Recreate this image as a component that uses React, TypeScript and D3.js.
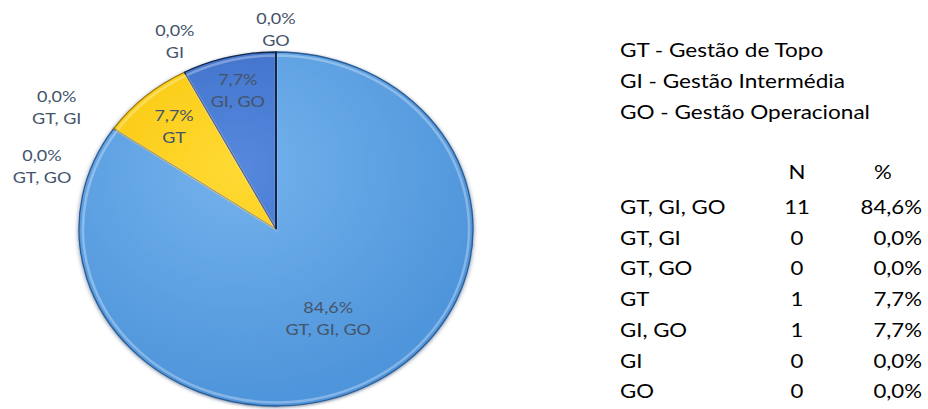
import React from "react";
import * as d3 from "d3";

// categories and counts, in table / clockwise slice order
const categories = ["GT, GI, GO", "GT, GI", "GT, GO", "GT", "GI, GO", "GI", "GO"];
const counts = [11, 0, 0, 1, 1, 0, 0];
const legendLines = ["GT - Gestão de Topo", "GI - Gestão Intermédia", "GO - Gestão Operacional"];
const tableHeader = ["N", "%"];

// label placement (angle offset in degrees from slice mid angle, radius factor)
const labelOffsets = [0, -2.8, -17.9, 0, 0, -25.8, 0];
const labelRadius = [0.57, 1.31, 1.24, 0.78, 0.81, 1.18, 1.13];

const WIDTH = 928;
const HEIGHT = 409;
const CX = 276;
const CY = 229;
const RX = 197;
const RY = 177;
const STRETCH = 1.2; // text in the source is drawn wide

const sliceColors: Record<string, [string, string, string]> = {
    "GT, GI, GO": ["#74B2EC", "#4F95DB", "#2B5B92"],
    "GT": ["#FFDA33", "#F7BF00", "#9C7700"],
    "GI, GO": ["#5689DE", "#3162BC", "#14264A"],
};

const fmtPct = (v: number) => v.toFixed(1).replace(".", ",") + "%";

const WideText: React.FC<{x: number, y: number, anchor?: string, size: number, fill: string, children: React.ReactNode}> =
    ({x, y, anchor = "start", size, fill, children}) => (
        <text transform={`translate(${x},${y}) scale(${STRETCH},1)`} textAnchor={anchor}
              fontFamily="Lato, 'Open Sans', sans-serif" fontSize={size} fill={fill}>
            {children}
        </text>
    );

export default function App() {
    const total = d3.sum(counts);
    const pie = d3.pie<number>().sort(null).value((d) => d);
    const arcs = pie(counts);
    const arc = d3.arc<d3.PieArcDatum<number>>().innerRadius(0).outerRadius(RX);
    const innerArc = d3.arc<d3.PieArcDatum<number>>().innerRadius(0).outerRadius(RX - 4);

    return (
        <svg width={WIDTH} height={HEIGHT} style={{position: "absolute", left: 0, top: 0}}>
            <defs>
                {Object.entries(sliceColors).map(([k, c], i) => (
                    <radialGradient key={k} id={"g" + i} gradientUnits="userSpaceOnUse"
                                    cx={-RX * 0.2} cy={-RX * 0.35} r={RX * 1.3}>
                        <stop offset="0%" stopColor={c[0]}/>
                        <stop offset="100%" stopColor={c[1]}/>
                    </radialGradient>
                ))}
                <filter id="shadow" x="-10%" y="-10%" width="120%" height="120%">
                    <feDropShadow dx={0} dy={1} stdDeviation={2} floodColor="#1f3864" floodOpacity={0.6}/>
                </filter>
            </defs>

            <g transform={`translate(${CX},${CY}) scale(1,${RY / RX})`} filter="url(#shadow)">
                {arcs.map((a, i) => {
                    if (a.value === 0) return null;
                    const key = categories[i];
                    const gi = Object.keys(sliceColors).indexOf(key);
                    const c = sliceColors[key];
                    return (
                        <g key={key}>
                            <path d={arc(a) || ""} fill={`url(#g${gi})`} stroke={c[2]}
                                  strokeWidth={1.3} vectorEffect="non-scaling-stroke"/>
                            <path d={innerArc(a) || ""} fill="none" stroke="#ffffff"
                                  strokeOpacity={0.3} strokeWidth={2.5} vectorEffect="non-scaling-stroke"/>
                        </g>
                    );
                })}
                {/* dark seam along the 12 o'clock edge */}
                <line x1={0} y1={0} x2={0} y2={-RX} stroke="#14264A" strokeWidth={2}
                      vectorEffect="non-scaling-stroke"/>
            </g>

            {arcs.map((a, i) => {
                const mid = (a.startAngle + a.endAngle) / 2 + (labelOffsets[i] * Math.PI) / 180;
                const k = labelRadius[i];
                const x = CX + RX * k * Math.sin(mid);
                const y = CY - RY * k * Math.cos(mid);
                return (
                    <g key={"l" + i}>
                        <WideText x={x} y={y - 5} anchor="middle" size={15} fill="#44546A">
                            {fmtPct((counts[i] / total) * 100)}
                        </WideText>
                        <WideText x={x} y={y + 17} anchor="middle" size={15} fill="#44546A">
                            {categories[i]}
                        </WideText>
                    </g>
                );
            })}

            {legendLines.map((t, i) => (
                <WideText key={t} x={620} y={57 + i * 31} size={18.8} fill="#000">{t}</WideText>
            ))}
            <WideText x={797} y={179} anchor="middle" size={18.5} fill="#000">{tableHeader[0]}</WideText>
            <WideText x={883} y={179} anchor="middle" size={18.5} fill="#000">{tableHeader[1]}</WideText>
            {categories.map((c, i) => (
                <g key={"r" + c}>
                    <WideText x={620} y={214 + i * 30.7} size={18.5} fill="#000">{c}</WideText>
                    <WideText x={797} y={214 + i * 30.7} anchor="middle" size={18.5} fill="#000">{counts[i]}</WideText>
                    <WideText x={922} y={214 + i * 30.7} anchor="end" size={18.5} fill="#000">
                        {fmtPct((counts[i] / total) * 100)}
                    </WideText>
                </g>
            ))}
        </svg>
    );
}
